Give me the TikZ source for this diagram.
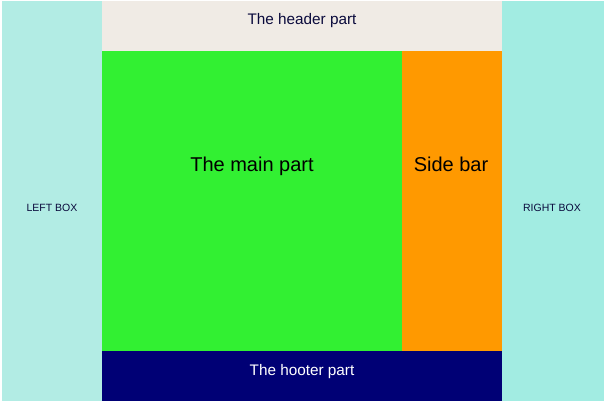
\documentclass[tikz,border=0pt]{standalone}
\usepackage{fontspec}
\setmainfont{Liberation Sans}
\definecolor{leftc}{RGB}{178,236,228}
\definecolor{rightc}{RGB}{162,236,226}
\definecolor{headc}{RGB}{240,235,229}
\definecolor{mainc}{RGB}{50,240,50}
\definecolor{sidec}{RGB}{255,153,0}
\definecolor{footc}{RGB}{0,0,117}
\definecolor{headtxt}{RGB}{10,10,60}
\tikzset{
  region/.style={draw=none},
  lbl/.style={anchor=base, inner sep=0pt, font=#1},
}
\begin{document}
\begin{tikzpicture}[x=1pt,y=-1pt]
\useasboundingbox[fill=white] (0,0) rectangle (604,404);
\fill[leftc] (2,1) rectangle (102,401);
\fill[headc] (102,1) rectangle (502,51);
\fill[mainc] (102,51) rectangle (402,351);
\fill[sidec] (402,51) rectangle (502,351);
\fill[footc] (102,351) rectangle (502,401);
\fill[rightc] (502,1) rectangle (604,401);
\node[lbl=\fontsize{15.3}{18}\selectfont, text=headtxt] (hdr) at (302,25) {The header part};
\node[lbl=\fontsize{20}{24}\selectfont, text=black] (mainl) at (252,171) {The main part};
\node[lbl=\fontsize{20}{24}\selectfont, text=black] (sidel) at (451,171) {Side bar};
\node[lbl=\fontsize{15.3}{18}\selectfont, text=white] (ftr) at (302,375.5) {The hooter part};
\node[lbl=\fontsize{10.5}{12}\selectfont, text=headtxt] (lb) at (52,211.5) {LEFT BOX};
\node[lbl=\fontsize{10.5}{12}\selectfont, text=headtxt] (rb) at (552,211.5) {RIGHT BOX};
\end{tikzpicture}
\end{document}
